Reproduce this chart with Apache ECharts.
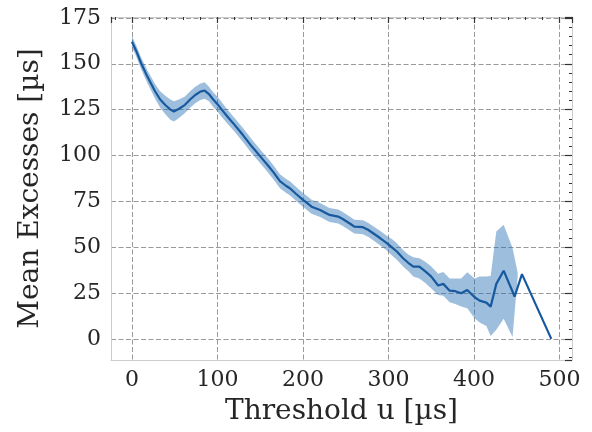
<!DOCTYPE html>
<html>
<head>
<meta charset="utf-8">
<script src="https://cdn.jsdelivr.net/npm/echarts@6/dist/echarts.min.js"></script>
<style>html,body{margin:0;padding:0;background:#fff}#c{width:592px;height:432px}</style>
</head>
<body>
<div id="c"></div>
<script>
// Thresholds u [µs]
var thresholds = [0,5,11,18,27,33,39,45,49,55,62,68,74,80,85,90,95,100,105,112,120,130,140,150,160,166,173,180,185,192,200,205,210,220,226,231,241,246,251,256,260,270,276,282,290,298,305,310,317,323,329,336,343,350,358,364,371.5,378,385,392,400.7,406.5,414.4,419.4,426,434.6,447.4,456,490.3];
// Mean excess values
var meanExcess = [162,157,150,143,135,130.5,127.5,125,124,125.5,127.6,130.5,133,134.8,135.4,133.5,130.5,128,125,121,116.7,111,105,99.5,94,90.5,86,83.5,82,79,75.8,74,72.1,70.3,68.8,67.6,66.7,65.5,64,62.5,61.2,60.9,59.5,57.6,55,52.2,49.5,47.5,44,41.5,39.4,39.4,36.8,34,29.1,30,26.3,26,24.9,26.7,22.7,20.9,19.8,17.6,30,37.2,23.1,35.3,0];
// Confidence band
var ciThresholds = [0,5,11,18,27,33,39,45,49,55,62,68,74,80,85,90,95,100,105,112,120,130,140,150,160,166,173,180,185,192,200,205,210,220,226,231,241,246,251,256,260,270,276,282,290,298,305,310,317,323,329,336,343,350,358,364,371.5,378,385,392,400.7,406.5,414.4,419.4,426,434.6,445,451];
var ciLower = [159,154,146.8,139.5,131,126,122.5,119.5,118.5,120.5,123.1,126,128.5,130.3,130.9,129.5,126.5,124,121,117.2,112.9,107.2,101.2,95.7,90.2,86.7,82.2,79.7,78.2,75.2,72,70.2,68.3,66.5,65,63.8,62.9,61.7,60.2,58.7,57.4,57.1,55.7,53.8,51,48.2,45,43,39.5,37,34,33,30.5,27.5,24,23.5,20,19,17.6,16.7,11.3,9,7,1.6,5,11,1,34];
var ciUpper = [165,160,153.2,146.5,139,135,132.5,130.5,129.5,130.5,132.1,135,137.5,139.3,139.9,137.5,134.5,132,129,124.8,120.5,114.8,108.8,103.3,97.8,94.3,89.8,87.3,85.8,82.8,79.6,77.8,75.9,74.1,72.6,71.4,70.5,69.3,67.8,66.3,65,64.7,63.3,61.4,59,56.2,54,52,48.5,46,44.5,44,42,39.5,35.5,36.5,33,33,33,36.3,33,34,34,34.3,58.5,62.2,49.5,36];
// Tick label values
var xTicks = [0,100,200,300,400,500];
var yTicks = [0,25,50,75,100,125,150,175];

var X_MIN = -24.5, X_MAX = 514.5, Y_MIN = -11.5, Y_MAX = 175.5;
var font = 'DejaVu Serif';
var lineColor = '#17599f';

function lineData(xs, ys){ return xs.map(function(x,i){ return [x, ys[i]]; }); }
var bandData = ciThresholds.map(function(x,i){ return [x, ciLower[i], ciUpper[i]]; });

var chart = echarts.init(document.getElementById('c'), null, {renderer:'canvas'});
var grid = {left:111, right:20, top:17, bottom:72, show:false};

function hiddenAxisBase(extra){
  var o = {type:'value', axisLabel:{show:false}, splitLine:{show:false}, axisLine:{show:false, onZero:false}};
  for (var k in extra) o[k] = extra[k];
  return o;
}

var option = {
  animation:false,
  backgroundColor:'#ffffff',
  grid: grid,
  xAxis: [
    {
      type:'value', position:'bottom', min:X_MIN, max:X_MAX, minInterval:100, maxInterval:100,
      name:'Threshold u [µs]', nameLocation:'middle', nameGap:38,
      nameTextStyle:{fontFamily:font, fontSize:28, color:'#262626'},
      axisLine:{show:true, onZero:false, lineStyle:{color:'#cccccc', width:1}},
      axisTick:{show:false},
      axisLabel:{fontFamily:font, fontSize:22, color:'#262626', margin:9,
        formatter:function(v){ return xTicks.indexOf(v) >= 0 ? String(v) : ''; }},
      splitLine:{show:true, lineStyle:{color:'#999999', type:[5,2.5], width:1}}
    },
    hiddenAxisBase({position:'top', min:X_MIN, max:X_MAX, minInterval:20, maxInterval:20,
      axisLine:{show:true, onZero:false, lineStyle:{color:'#cccccc'}},
      axisTick:{show:true, inside:true, length:3, lineStyle:{color:'#333333'}}}),
    hiddenAxisBase({position:'top', min:X_MIN, max:X_MAX, minInterval:100, maxInterval:100,
      axisTick:{show:true, inside:true, length:6, lineStyle:{color:'#333333', width:1.2}}})
  ],
  yAxis: [
    {
      type:'value', position:'left', min:Y_MIN, max:Y_MAX, minInterval:25, maxInterval:25,
      name:'Mean Excesses [µs]', nameLocation:'middle', nameGap:66,
      nameTextStyle:{fontFamily:font, fontSize:28, color:'#262626'},
      axisLine:{show:true, onZero:false, lineStyle:{color:'#cccccc', width:1}},
      axisTick:{show:false},
      axisLabel:{fontFamily:font, fontSize:22, color:'#262626', margin:10,
        formatter:function(v){ return yTicks.indexOf(v) >= 0 ? String(v) : ''; }},
      splitLine:{show:true, lineStyle:{color:'#999999', type:[5,2.5], width:1}}
    },
    hiddenAxisBase({position:'right', min:Y_MIN, max:Y_MAX, minInterval:5, maxInterval:5,
      axisLine:{show:true, onZero:false, lineStyle:{color:'#cccccc'}},
      axisTick:{show:true, inside:true, length:3, lineStyle:{color:'#333333'}}}),
    hiddenAxisBase({position:'right', min:Y_MIN, max:Y_MAX, minInterval:25, maxInterval:25,
      axisTick:{show:true, inside:true, length:7, lineStyle:{color:'#333333', width:1.2}}})
  ],
  series: [
    {
      type:'custom', xAxisIndex:0, yAxisIndex:0, silent:true, z:2,
      data: bandData,
      renderItem: function(params, api){
        if (params.dataIndex !== 0) return null;
        var upper = [], lower = [];
        for (var i=0;i<bandData.length;i++){
          upper.push(api.coord([bandData[i][0], bandData[i][2]]));
          lower.push(api.coord([bandData[i][0], bandData[i][1]]));
        }
        var pts = upper.concat(lower.reverse());
        return {type:'polygon', shape:{points:pts},
          style:{fill:'rgba(40,110,180,0.45)', stroke:null}};
      }
    },
    {
      type:'line', xAxisIndex:0, yAxisIndex:0, z:3,
      data: lineData(thresholds, meanExcess),
      showSymbol:false, symbol:'none',
      lineStyle:{color:lineColor, width:2.2},
      itemStyle:{color:lineColor}
    }
  ]
};
chart.setOption(option);
</script>
</body>
</html>
